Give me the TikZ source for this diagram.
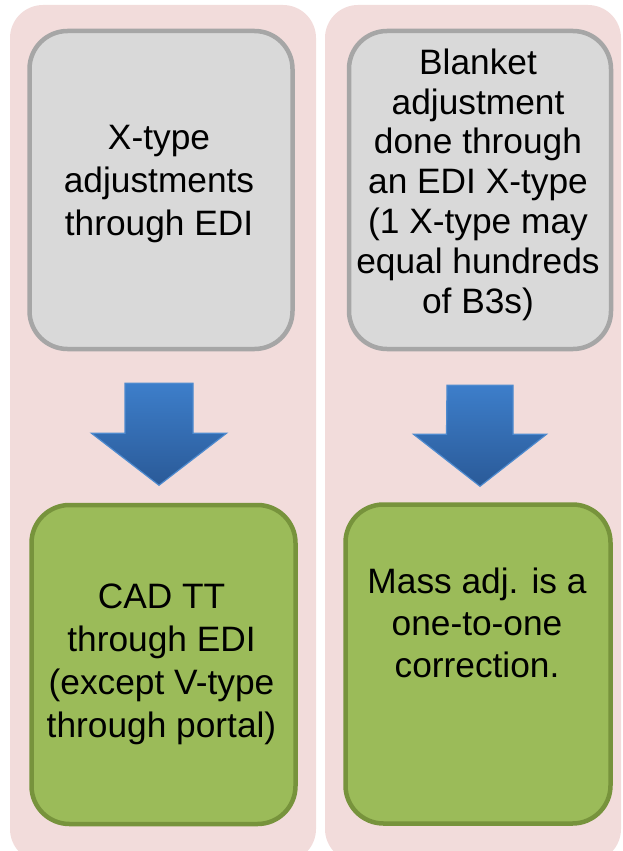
\documentclass[tikz,border=0pt]{standalone}
\usepackage{fontspec}
\setmainfont{Liberation Sans}
\usetikzlibrary{calc}
\definecolor{panelpink}{RGB}{242,220,219}
\definecolor{grayfill}{RGB}{217,217,217}
\definecolor{grayline}{RGB}{166,166,166}
\definecolor{greenfill}{RGB}{155,187,89}
\definecolor{greenline}{RGB}{119,147,60}
\definecolor{arrowtop}{RGB}{61,126,202}
\definecolor{arrowbot}{RGB}{42,90,152}
\definecolor{arrowedge}{RGB}{78,138,206}

\begin{document}
\begin{tikzpicture}[x=1pt, y=-1pt,
  box/.style={rounded corners=38pt, line width=4.5pt, inner sep=0pt, minimum width=263pt, minimum height=318pt},
  graybox/.style={box, draw=grayline, fill=grayfill},
  greenbox/.style={box, draw=greenline, fill=greenfill, minimum height=319pt},
  boxtext/.style={align=center, inner sep=0pt, font=\fontsize{35.3pt}{43pt}\selectfont},
  downarrow/.style={top color=arrowtop, bottom color=arrowbot, draw=arrowedge, line width=1.2pt}]
\useasboundingbox (0,0) rectangle (623,851);
% pink columns
\fill[panelpink, rounded corners=33pt] (10,5) rectangle (316,862);
\fill[panelpink, rounded corners=33pt] (325,5) rectangle (621,862);
% boxes
\node[graybox] (xbox) at (161,190) {};
\node[graybox, minimum width=262pt] (bbox) at (480,190) {};
\node[greenbox, minimum width=264pt] (cbox) at (163.5,664.5) {};
\node[greenbox, minimum width=265pt] (mbox) at (478,664) {};
% texts
\node[boxtext] (xtext) at (159,184) {X-type\\adjustments\\through EDI};
\node[boxtext, font=\fontsize{35.3pt}{39.8pt}\selectfont] (btext) at (478,184.5)
  {Blanket\\adjustment\\done through\\an EDI X-type\\(1 X-type may\\equal hundreds\\of B3s)};
\node[boxtext] (ctext) at (161.5,664) {CAD TT\\through EDI\\(except V-type\\through portal)};
\node[boxtext, font=\fontsize{35.3pt}{42pt}\selectfont] (mtext) at (477,623)
  {Mass adj. is a\\one-to-one\\correction.};
% block arrows
\coordinate (xa) at ($(xbox.south)+(-2,32)$);
\coordinate (ba) at ($(bbox.south)+(0,34)$);
\draw[downarrow] (xa) ++(-34,0) -- ++(68,0) -- ++(0,50) -- ++(33.5,0) -- ++(-67.5,52)
  -- ++(-67.5,-52) -- ++(33.5,0) -- cycle;
\draw[downarrow] (ba) ++(-33,0) -- ++(66,0) -- ++(0,49) -- ++(33.5,0) -- ++(-66.5,52)
  -- ++(-66.5,-52) -- ++(33,0) -- cycle;
\end{tikzpicture}
\end{document}
